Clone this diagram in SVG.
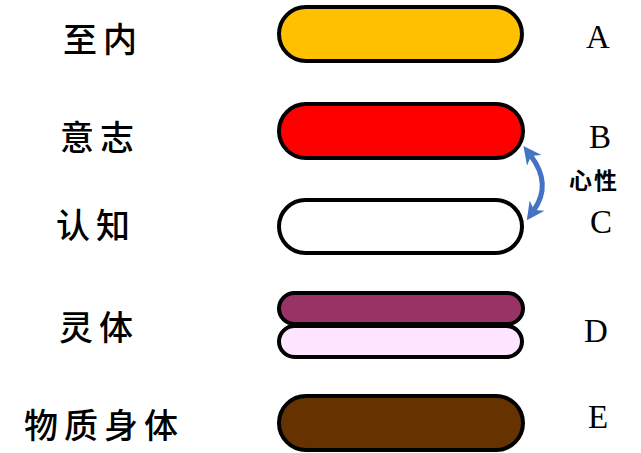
<svg xmlns="http://www.w3.org/2000/svg" width="641" height="453" viewBox="0 0 641 453">
<style>
.cap{stroke:#000;stroke-width:4}
.zh{font-family:"Noto Sans CJK SC","Noto Sans CJK JP",sans-serif;font-size:34px;font-weight:500;fill:#000;text-anchor:middle;letter-spacing:6px}
.lt{font-family:"Liberation Serif",serif;font-size:33px;fill:#000;text-anchor:middle}
.xx{font-family:"Noto Sans CJK SC",sans-serif;font-size:23px;font-weight:bold;fill:#000;text-anchor:middle;letter-spacing:2px}
</style>
<defs>
<marker id="ah" viewBox="0 0 10 10" refX="3" refY="5" markerWidth="3.6" markerHeight="3.6" orient="auto-start-reverse" markerUnits="strokeWidth">
<path d="M0,0 L10,5 L0,10 L3,5 Z" fill="#4472C4"/>
</marker>
</defs>
<rect width="641" height="453" fill="#fff"/>
<g id="A">
<rect class="cap" x="279" y="7" width="243" height="54" rx="27" fill="#FFC000"/>
<text class="zh" x="103" y="52">至内</text>
<text class="lt" x="598" y="48">A</text>
</g>
<g id="B">
<rect class="cap" x="279" y="104" width="244" height="54" rx="27" fill="#FF0000"/>
<text class="zh" x="100" y="150">意志</text>
<text class="lt" x="600" y="148">B</text>
</g>
<g id="C">
<rect class="cap" x="279" y="200" width="243" height="53" rx="26.5" fill="#FFFFFF"/>
<text class="zh" x="96" y="238">认知</text>
<text class="lt" x="601" y="233">C</text>
</g>
<g id="D">
<rect class="cap" x="279" y="293" width="244" height="31" rx="15.5" fill="#993366"/>
<rect class="cap" x="279" y="326" width="243" height="31" rx="15.5" fill="#FFE5FF"/>
<text class="zh" x="99" y="340">灵体</text>
<text class="lt" x="596" y="342">D</text>
</g>
<g id="E">
<rect class="cap" x="279" y="396" width="244" height="54" rx="27" fill="#663300"/>
<text class="zh" x="104" y="438">物质身体</text>
<text class="lt" x="598" y="428">E</text>
</g>
<g id="connectors">
<path d="M531,156 Q552,184 534,210" fill="none" stroke="#4472C4" stroke-width="5" marker-start="url(#ah)" marker-end="url(#ah)"/>
<text class="xx" x="594" y="189">心性</text>
</g>
</svg>
